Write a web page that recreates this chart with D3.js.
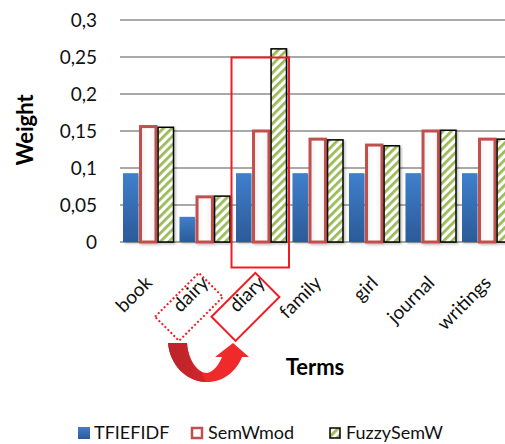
<!DOCTYPE html>
<html>
<head>
<meta charset="utf-8">
<script src="https://cdn.jsdelivr.net/npm/d3@7/dist/d3.min.js"></script>
<style>
  html, body { margin: 0; padding: 0; background: #fff; overflow: hidden; }
  svg { display: block; font-family: Lato, "Open Sans", sans-serif; }
</style>
</head>
<body>
<svg id="chart" width="505" height="444"></svg>
<script>
// Term weights per scheme
const terms = ["book", "dairy", "diary", "family", "girl", "journal", "writings"];
const seriesNames = ["TFIEFIDF", "SemWmod", "FuzzySemW"];
const tfiefidf = [0.093, 0.034, 0.093, 0.093, 0.093, 0.093, 0.093];
const semWmod = [0.156, 0.061, 0.150, 0.139, 0.131, 0.150, 0.139];
const fuzzySemW = [0.155, 0.062, 0.261, 0.138, 0.130, 0.151, 0.139];
const yTicks = [0, 0.05, 0.1, 0.15, 0.2, 0.25, 0.3];
const yTickLabels = ["0", "0,05", "0,1", "0,15", "0,2", "0,25", "0,3"];

const seriesValues = [tfiefidf, semWmod, fuzzySemW];
const rows = terms.map((t, i) => ({ term: t, values: seriesValues.map(v => v[i]) }));

const svg = d3.select("#chart");
const defs = svg.append("defs");

// blue bar gradient
const gBlue = defs.append("linearGradient").attr("id", "blueGrad")
  .attr("x1", 0).attr("y1", 0).attr("x2", 0).attr("y2", 1);
gBlue.append("stop").attr("offset", "0%").attr("stop-color", "#3f7fcc");
gBlue.append("stop").attr("offset", "100%").attr("stop-color", "#2b5b98");

// white bar with soft grey shading
const gWhite = defs.append("linearGradient").attr("id", "whiteGrad")
  .attr("x1", 0).attr("y1", 0).attr("x2", 1).attr("y2", 0);
gWhite.append("stop").attr("offset", "0%").attr("stop-color", "#f2f2f2");
gWhite.append("stop").attr("offset", "50%").attr("stop-color", "#ffffff");
gWhite.append("stop").attr("offset", "100%").attr("stop-color", "#f2f2f2");

// green diagonal stripes
const pat = defs.append("pattern").attr("id", "stripes")
  .attr("patternUnits", "userSpaceOnUse").attr("width", 6).attr("height", 6)
  .attr("patternTransform", "rotate(45)");
pat.append("rect").attr("width", 6).attr("height", 6).attr("fill", "#ffffff");
pat.append("rect").attr("width", 2.8).attr("height", 6).attr("fill", "#9bbb59");

// soft drop shadow under bars
const shadow = defs.append("filter").attr("id", "shadow")
  .attr("x", "-20%").attr("y", "-20%").attr("width", "160%").attr("height", "140%");
shadow.append("feDropShadow").attr("dx", 1.5).attr("dy", 1.5).attr("stdDeviation", 1.2)
  .attr("flood-color", "#000").attr("flood-opacity", 0.25);

// arrow shading
const gArrow = defs.append("linearGradient").attr("id", "arrowGrad")
  .attr("x1", 0).attr("y1", 0).attr("x2", 1).attr("y2", 0);
gArrow.append("stop").attr("offset", "0%").attr("stop-color", "#b8242a");
gArrow.append("stop").attr("offset", "100%").attr("stop-color", "#d2252b");

const plot = { left: 120, top: 20, bottom: 242 };
const step = 56.5;

const x = d3.scaleBand().domain(terms)
  .range([plot.left, plot.left + step * terms.length]).padding(0);
const xInner = d3.scaleBand().domain(seriesNames)
  .range([3, x.bandwidth() - 3]).paddingInner(0.12);
const y = d3.scaleLinear().domain([0, 0.3]).range([plot.bottom, plot.top]);

// gridlines
svg.append("g").selectAll("line").data(yTicks).join("line")
  .attr("x1", plot.left).attr("x2", 505)
  .attr("y1", d => y(d)).attr("y2", d => y(d))
  .attr("stroke", "#8c8c8c").attr("stroke-width", 1.6);

// y axis tick labels
const yAxis = d3.axisLeft(y).tickValues(yTicks)
  .tickFormat((d, i) => yTickLabels[i]).tickSize(0).tickPadding(0);
const yg = svg.append("g").attr("transform", `translate(97,0)`).call(yAxis);
yg.select(".domain").remove();
yg.selectAll("text").attr("font-size", 19).attr("fill", "#111")
  .attr("font-family", "Lato, sans-serif");

// bars
const styles = [
  { fill: "url(#blueGrad)", stroke: "none", sw: 0 },
  { fill: "url(#whiteGrad)", stroke: "#c0504d", sw: 3 },
  { fill: "url(#stripes)", stroke: "#000", sw: 1.5 }
];

const groups = svg.append("g").selectAll("g").data(rows).join("g")
  .attr("transform", d => `translate(${x(d.term)},0)`);

groups.selectAll("rect")
  .data(d => d.values.map((v, k) => ({ v, k, name: seriesNames[k] })))
  .join("rect")
  .attr("x", d => xInner(d.name))
  .attr("width", xInner.bandwidth())
  .attr("y", d => y(d.v))
  .attr("height", d => y(0) - y(d.v))
  .attr("fill", d => styles[d.k].fill)
  .attr("stroke", d => styles[d.k].stroke)
  .attr("stroke-width", d => styles[d.k].sw)
  .attr("filter", "url(#shadow)");

// category labels
const labelAnchor = t => [x(t) + x.bandwidth() / 2 + 4, 280];
svg.append("g").selectAll("text").data(terms).join("text")
  .attr("transform", d => {
    const [ax, ay] = labelAnchor(d);
    return `translate(${ax + 1},${ay + 4}) rotate(-45)`;
  })
  .attr("text-anchor", "end")
  .attr("font-size", 19).attr("fill", "#111")
  .text(d => d);

// highlight around the diary column
const red = "#ee1c24";
svg.append("rect")
  .attr("x", x("diary") - 1.5).attr("width", x.bandwidth() + 1)
  .attr("y", y(0.25) + 0.5).attr("height", y(0) - y(0.25) + 25)
  .attr("fill", "none").attr("stroke", red).attr("stroke-width", 2);

// boxes around the swapped labels
svg.append("rect")
  .attr("transform", `translate(${labelAnchor("dairy")}) rotate(-45)`)
  .attr("x", -64).attr("y", -12).attr("width", 62).attr("height", 34)
  .attr("fill", "none").attr("stroke", red).attr("stroke-width", 2)
  .attr("stroke-dasharray", "2,2.2");
svg.append("rect")
  .attr("transform", `translate(${labelAnchor("diary")}) rotate(-45)`)
  .attr("x", -64).attr("y", -12).attr("width", 62).attr("height", 34)
  .attr("fill", "none").attr("stroke", red).attr("stroke-width", 2);

// curved arrow from the misspelt label to the corrected one
const arrow = svg.append("g");
arrow.append("path")
  .attr("d", "M168,343 L187,343 C188,360 198,373 207,373 C214,372 219,364 222,357 L215,357 L233,343 L249,357 L242,357 C236,372 222,383 205,382 C186,381 170,365 168,343 Z")
  .attr("fill", "#ef2a2a");
arrow.append("path")
  .attr("d", "M168,343 L187,343 C188,360 196,370 202,372.5 L206,382 C186,381 170,365 168,343 Z")
  .attr("fill", "url(#arrowGrad)");

// axis titles
svg.append("text")
  .attr("transform", "translate(33,130) rotate(-90)")
  .attr("text-anchor", "middle")
  .attr("font-size", 22).attr("font-weight", "bold").attr("fill", "#000")
  .text("Weight");
svg.append("text")
  .attr("x", 315).attr("y", 375)
  .attr("text-anchor", "middle")
  .attr("font-size", 22).attr("font-weight", "bold").attr("fill", "#000")
  .text("Terms");

// legend
const legendX = [78, 191, 329];
const legend = svg.append("g").selectAll("g").data(seriesNames).join("g")
  .attr("transform", (d, i) => `translate(${legendX[i]},427)`);
legend.append("rect")
  .attr("x", (d, i) => i === 0 ? 0 : 1)
  .attr("y", (d, i) => i === 0 ? 0 : 1)
  .attr("width", (d, i) => i === 0 ? 12 : 10)
  .attr("height", (d, i) => i === 0 ? 12 : 10)
  .attr("fill", (d, i) => i === 0 ? "url(#blueGrad)" : (i === 1 ? "#fff" : "url(#stripes)"))
  .attr("stroke", (d, i) => styles[i].stroke)
  .attr("stroke-width", (d, i) => i === 1 ? 2.5 : 1.5);
legend.append("text")
  .attr("x", (d, i) => i === 0 ? 16 : 17)
  .attr("y", 12)
  .attr("font-size", 18).attr("fill", "#111")
  .text(d => d);
</script>
</body>
</html>
